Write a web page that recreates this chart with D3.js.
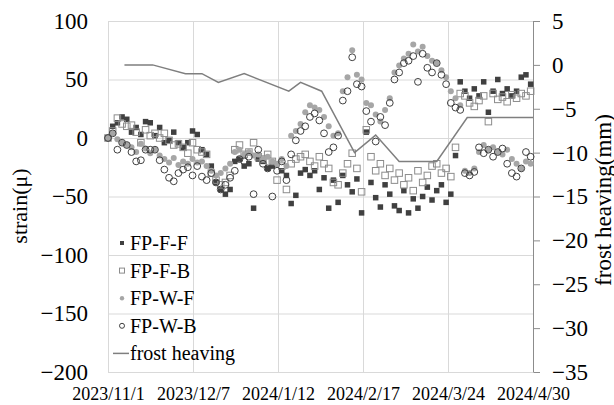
<!DOCTYPE html>
<html>
<head>
<meta charset="utf-8">
<script src="https://cdn.jsdelivr.net/npm/d3@7"></script>
<style>
  body { margin: 0; background: #fff; }
  svg text { font-family: "Liberation Serif", "Times New Roman", serif; fill: #000; }
</style>
</head>
<body>
<div id="chart"></div>
<script>
// measurement days, counted from 2023/11/1
var days = [0, 2, 4, 6, 8, 10, 12, 14, 16, 18,
  20, 22, 24, 26, 28, 30, 32, 34, 36, 38,
  40, 42, 44, 46, 48, 50, 52, 54, 56, 58,
  60, 62, 64, 66, 68, 70, 72, 74, 76, 78,
  80, 82, 84, 86, 88, 90, 92, 94, 96, 98,
  100, 102, 104, 106, 108, 110, 112, 114, 116, 118,
  120, 122, 124, 126, 128, 130, 132, 134, 136, 138,
  140, 142, 144, 146, 148, 150, 152, 154, 156, 158,
  160, 162, 164, 166, 168, 170, 172, 174, 176, 178, 180];

var fpFF = [0, 10, 13, 18, 16, 5, 9, 3, 14, 13,
  2, 9, -4, -2, 5, -4, -8, -4, 6, 3,
  -10, -14, -24, -38, -44, -48, -44, -20, -18, -24,
  -22, -60, -18, -20, -26, -24, -22, -28, -32, -56,
  -49, -30, -27, -32, -28, -44, -34, -60, -36, -55,
  -32, -40, -46, -35, -64, 5, -38, -51, -59, -40,
  -48, -58, -62, -45, -64, -52, -60, -50, -42, -53,
  -45, -40, -55, -48, -15, 48, 40, 34, 42, 36,
  48, 22, 40, 50, 38, 42, 36, 40, 52, 54, 46];

var fpFB = [0, 6, 17, 12, 10, 11, 5, -4, 7, 2,
  4, 0, 4, -2, -6, -5, -8, -13, -4, -10,
  -12, -14, -30, -36, -40, -38, -32, -10, -6, -14,
  -12, -4, -16, -18, -14, -20, -36, -24, -44, -22,
  -18, -16, -14, -20, -24, -16, -22, -26, -38, -40,
  -30, -22, -13, -26, -46, 7, -16, -28, -22, -32,
  -26, -36, -30, -40, -34, -45, -28, -38, -32, -24,
  -22, -30, -26, -33, -8, 38, 36, 30, 27, 32,
  36, 14, 38, 33, 35, 31, 37, 34, 38, 36, 40];

var fpWF = [0, 4, -1, -4, -6, -8, -12, -5, -9, -13,
  -10, -15, -18, -21, -17, -23, -20, -22, -18, -21,
  -20, -24, -28, -32, -30, -26, -22, -12, -10, -14,
  -12, -15, -14, -18, -16, -20, -22, -18, -24, 2,
  6, 12, 22, 28, 26, 24, 18, 10, 2, 4,
  40, 52, 75, 54, 50, 30, 28, 20, 14, 24,
  34, 56, 62, 68, 72, 80, 74, 78, 70, 66,
  64, 58, 52, 40, 34, 28, -28, -30, -26, -12,
  -6, -10, -8, -12, -14, -10, -18, -22, -26, -20, -22];

var fpWB = [0, 4, -10, -4, -6, -12, -20, -19, -10, -10,
  -10, -19, -27, -34, -37, -30, -27, -25, -32, -24,
  -33, -36, -30, -38, -44, -40, -34, -28, -18, -20,
  -16, -48, -10, -22, -26, -50, -28, -20, -36, -14,
  -2, 6, 10, 18, 21, 15, 4, -12, -8, 2,
  32, 40, 69, 46, 44, 23, 14, -3, 18, 11,
  30, 50, 56, 64, 66, 70, 48, 72, 60, 56,
  64, 54, 46, 30, 26, 24, -30, -32, -29, -8,
  -13, -10, -16, -12, -9, -22, -30, -33, -26, -12, -16];

// frost heaving (mm), right axis
var heaveDays = [7, 19, 33, 40, 47, 58, 77, 82, 91, 105, 114, 124, 140, 153, 181];
var heave = [0, 0, -1, -1, -2, -1, -3, -2, -3, -10, -8, -11, -11, -6, -6];

var xTickLabels = ["2023/11/1", "2023/12/7", "2024/1/12", "2024/2/17", "2024/3/24", "2024/4/30"];
var yLeftTicks = [-200, -150, -100, -50, 0, 50, 100];
var yRightTicks = [-35, -30, -25, -20, -15, -10, -5, 0, 5];
var seriesNames = ["FP-F-F", "FP-F-B", "FP-W-F", "FP-W-B", "frost heaving"];

/********* SETUP *********/
var W = 614, H = 405;
var plotL = 108, plotR = 533, plotT = 21, plotB = 372;
var totalDays = 181;

var svg = d3.select("#chart").append("svg")
  .attr("width", W)
  .attr("height", H);

var x = d3.scaleLinear().domain([0, totalDays]).range([plotL, plotR]);
var yL = d3.scaleLinear().domain([-200, 100]).range([plotB, plotT]);
var yR = d3.scaleLinear().domain([-35, 5]).range([plotB, plotT]);

var xTicks = xTickLabels.map(function (d, i) { return i * totalDays / (xTickLabels.length - 1); });

/********* GRID *********/
var grid = svg.append("g").attr("class", "grid");
grid.append("g")
  .attr("transform", "translate(" + plotL + ",0)")
  .call(d3.axisLeft(yL).tickValues(yLeftTicks).tickSize(-(plotR - plotL)).tickFormat(""))
  .call(function (g) { g.select(".domain").remove(); });
grid.append("g")
  .attr("transform", "translate(0," + plotB + ")")
  .call(d3.axisBottom(x).tickValues(xTicks).tickSize(-(plotB - plotT)).tickFormat(""))
  .call(function (g) { g.select(".domain").remove(); });
grid.selectAll("line").attr("stroke", "#d9d9d9").attr("stroke-width", 1);

/********* AXES *********/
var axL = svg.append("g")
  .attr("transform", "translate(" + plotL + ",0)")
  .call(d3.axisLeft(yL).tickValues(yLeftTicks).tickSize(0).tickPadding(20));
axL.select(".domain").remove();
axL.selectAll("text").style("font-size", "23px").style("font-family", "Liberation Serif");

var axR = svg.append("g")
  .attr("transform", "translate(" + plotR + ",0)")
  .call(d3.axisRight(yR).tickValues(yRightTicks).tickSize(7).tickSizeOuter(0).tickPadding(12));
axR.select(".domain").attr("stroke", "#8c8c8c");
axR.selectAll("line").attr("stroke", "#8c8c8c");
axR.selectAll("text").style("font-size", "23px").style("font-family", "Liberation Serif");

var axB = svg.append("g")
  .attr("transform", "translate(0," + plotB + ")")
  .call(d3.axisBottom(x).tickValues(xTicks).tickSize(0).tickPadding(15)
    .tickFormat(function (d, i) { return xTickLabels[i]; }));
axB.select(".domain").attr("stroke", "#d9d9d9");
axB.selectAll("text").style("font-size", "18px").style("font-family", "Liberation Serif");

svg.append("text")
  .attr("transform", "translate(19," + 206 + ") rotate(-90)")
  .attr("text-anchor", "middle")
  .attr("dominant-baseline", "central")
  .style("font-size", "22px")
  .text("strain(μ)");

svg.append("text")
  .attr("transform", "translate(603," + 200 + ") rotate(-90)")
  .attr("text-anchor", "middle")
  .attr("dominant-baseline", "central")
  .style("font-size", "23px")
  .text("frost heaving(mm)");

/********* MARKS *********/
function pts(vals) {
  return vals.map(function (v, i) { return [days[i], v]; });
}

svg.append("g").selectAll("rect")
  .data(pts(fpFF))
  .enter().append("rect")
  .attr("x", function (d) { return x(d[0]) - 2.75; })
  .attr("y", function (d) { return yL(d[1]) - 2.75; })
  .attr("width", 5.5)
  .attr("height", 5.5)
  .attr("fill", "#404040");

svg.append("g").selectAll("rect")
  .data(pts(fpFB))
  .enter().append("rect")
  .attr("x", function (d) { return x(d[0]) - 3.25; })
  .attr("y", function (d) { return yL(d[1]) - 3.25; })
  .attr("width", 6.5)
  .attr("height", 6.5)
  .attr("fill", "none")
  .attr("stroke", "#8c8c8c")
  .attr("stroke-width", 1);

svg.append("g").selectAll("circle")
  .data(pts(fpWF))
  .enter().append("circle")
  .attr("cx", function (d) { return x(d[0]); })
  .attr("cy", function (d) { return yL(d[1]); })
  .attr("r", 3)
  .attr("fill", "#a6a6a6");

svg.append("g").selectAll("circle")
  .data(pts(fpWB))
  .enter().append("circle")
  .attr("cx", function (d) { return x(d[0]); })
  .attr("cy", function (d) { return yL(d[1]); })
  .attr("r", 3.4)
  .attr("fill", "none")
  .attr("stroke", "#404040")
  .attr("stroke-width", 1);

var line = d3.line()
  .x(function (d) { return x(d[0]); })
  .y(function (d) { return yR(d[1]); });

svg.append("path")
  .datum(heave.map(function (v, i) { return [heaveDays[i], v]; }))
  .attr("d", line)
  .attr("fill", "none")
  .attr("stroke", "#7f7f7f")
  .attr("stroke-width", 1.5);

/********* LEGEND *********/
var legend = svg.append("g").attr("transform", "translate(122,243)");
var rowH = 27.6;
seriesNames.forEach(function (name, i) {
  var g = legend.append("g").attr("transform", "translate(0," + (i * rowH) + ")");
  if (i == 0) {
    g.append("rect").attr("x", -2).attr("y", -2).attr("width", 4).attr("height", 4).attr("fill", "#404040");
  } else if (i == 1) {
    g.append("rect").attr("x", -2.5).attr("y", -2.5).attr("width", 5).attr("height", 5)
      .attr("fill", "none").attr("stroke", "#8c8c8c");
  } else if (i == 2) {
    g.append("circle").attr("r", 2.2).attr("fill", "#a6a6a6");
  } else if (i == 3) {
    g.append("circle").attr("r", 2.5).attr("fill", "none").attr("stroke", "#404040");
  } else {
    g.append("line").attr("x1", -9).attr("x2", 7).attr("stroke", "#7f7f7f").attr("stroke-width", 1.5);
  }
  g.append("text")
    .attr("x", 8)
    .attr("dy", "0.35em")
    .style("font-size", "20px")
    .text(name);
});
</script>
</body>
</html>
